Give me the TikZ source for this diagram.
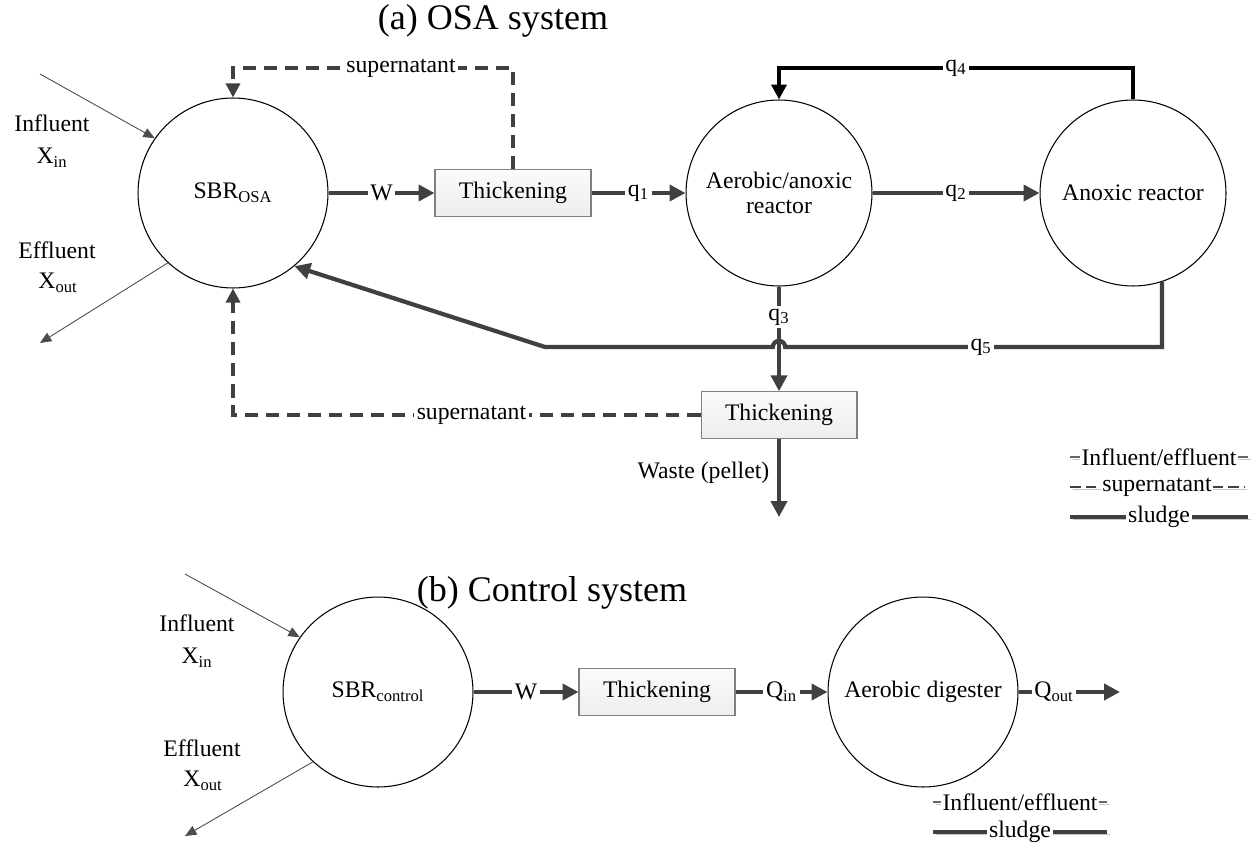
\documentclass[tikz,border=0pt]{standalone}
\usepackage{fontspec}
\setmainfont{Liberation Serif}
\usetikzlibrary{arrows.meta}
\usetikzlibrary{positioning}
\usetikzlibrary{calc}
\definecolor{sludgegray}{HTML}{404040}
\newcommand{\diagfont}{\fontsize{13.5}{14.5}\selectfont}
\newcommand{\titlefont}{\fontsize{20.5}{24}\selectfont}
\tikzset{
  Reactor/.style={circle,draw,line width=0.6pt,minimum size=3.72cm,inner sep=0pt,align=center},
  Thick/.style={rectangle,draw=gray,line width=0.6pt,top color=gray!3,bottom color=gray!14,
    minimum width=3.12cm,minimum height=0.93cm},
  Sludge/.style={draw=sludgegray,line width=2.4pt,-{Triangle[length=9pt,width=9pt]}},
  Super/.style={draw=sludgegray,line width=1.8pt,dash pattern=on 7.5pt off 4.5pt,
    -{Triangle[length=8pt,width=8pt]}},
  Flow/.style={draw=black!70,line width=0.5pt,-{Triangle[length=6.5pt,width=5.5pt]}},
  Recycle/.style={draw=black,line width=2.6pt,-{Triangle[length=8.5pt,width=8.5pt]}},
  Lab/.style={fill=white,inner sep=1.5pt},
  Legend/.style={preaction={draw=gray!45,transform canvas={xshift=1.5pt,yshift=-1.5pt}}}
}

\begin{document}
\begin{tikzpicture}[x=0.02cm,y=-0.02cm,font=\diagfont]
    \useasboundingbox (0,0) rectangle (1256,845);

    % (a) OSA system
    \node (titleA) at (493,21) {\titlefont (a) OSA system};
    \node[Reactor,minimum size=3.8cm] (sbr) at (233,193) {SBR\textsubscript{OSA}};
    \node[Thick] (thk1) at (513,193) {Thickening};
    \node[Reactor] (aer) at (779,193) {Aerobic/anoxic\\reactor};
    \node[Reactor] (anox) at (1133,193) {Anoxic reactor};
    \node[Thick] (thk2) at (779,415) {Thickening};
    \node (inA) at (52,123) {Influent};
    \node (xinA) at (52,158) {X\textsubscript{in}};
    \node (effA) at (57,250) {Effluent};
    \node (xoutA) at (58,283) {X\textsubscript{out}};

    \coordinate (inStartA) at (40,74);
    \coordinate (effEndA) at (40,343);
    \coordinate (topLine) at (0,68);
    \coordinate (q5Bend) at (545,347);
    \coordinate (hop) at (aer.south |- q5Bend);
    \coordinate (superBot) at (sbr.south |- thk2.west);
    \coordinate (wasteEnd) at (779,517);

    \draw[Flow] (inStartA) -- (sbr.145);
    \draw[Flow] (sbr.227) -- (effEndA);
    \draw[Sludge] (sbr.east) -- node[Lab]{W} (thk1.west);
    \draw[Sludge] (thk1.east) -- node[Lab]{q\textsubscript{1}} (aer.west);
    \draw[Sludge] (aer.east) -- node[Lab]{q\textsubscript{2}} (anox.west);
    \draw[Recycle] (anox.north) -- (anox.north |- topLine)
      -- node[Lab]{q\textsubscript{4}} (aer.north |- topLine) -- (aer.north);
    \draw[Super] (thk1.north) -- (thk1.north |- topLine)
      -- node[Lab,pos=.4]{supernatant} (sbr.north |- topLine) -- (sbr.north);
    \draw[Sludge] (aer.south) -- node[Lab,pos=.29]{q\textsubscript{3}} (thk2.north);
    \draw[Sludge] (anox.-72) -- (anox.-72 |- q5Bend)
      -- node[Lab,pos=.48]{q\textsubscript{5}} ([xshift=3.5pt]hop)
      arc[start angle=0,end angle=180,radius=3.5pt] -- (q5Bend) -- (sbr.-50);
    \draw[Super] (thk2.west) -- node[Lab,pos=.49]{supernatant} (superBot) -- (sbr.south);
    \draw[Sludge] (thk2.south) -- node[pos=.43,left=1pt]{Waste (pellet)} (wasteEnd);

    % legend (a)
    \coordinate (legA1l) at (1070,457);
    \coordinate (legA1r) at (1248,457);
    \coordinate (legA2l) at (1070,487);
    \coordinate (legA2r) at (1244,487);
    \coordinate (legA3l) at (1070,517);
    \coordinate (legA3r) at (1248,517);
    \draw[Legend,draw=black!60,line width=0.9pt] (legA1l) -- node[fill=white,inner sep=1pt] (legA1) {Influent/effluent} (legA1r);
    \draw[Legend,draw=sludgegray,line width=1.6pt,dash pattern=on 6pt off 3pt] (legA2l) -- node[fill=white,inner sep=1pt] (legA2) {supernatant} (legA2r);
    \draw[Legend,draw=sludgegray,line width=2.6pt] (legA3l) -- node[fill=white,inner sep=1pt] (legA3) {sludge} (legA3r);

    % (b) Control system
    \node (titleB) at (552,593) {\titlefont (b) Control system};
    \node[Reactor,minimum size=3.8cm] (sbrC) at (378,692) {SBR\textsubscript{control}};
    \node[Thick] (thk3) at (657,692) {Thickening};
    \node[Reactor,minimum size=3.8cm] (dig) at (923,692) {Aerobic digester};
    \node (inB) at (197,623) {Influent};
    \node (xinB) at (197,658) {X\textsubscript{in}};
    \node (effB) at (202,748) {Effluent};
    \node (xoutB) at (203,781) {X\textsubscript{out}};

    \coordinate (inStartB) at (185,574);
    \coordinate (effEndB) at (185,836);
    \coordinate (qOutEnd) at (1120,692);

    \draw[Flow] (inStartB) -- (sbrC.145);
    \draw[Flow] (sbrC.227) -- (effEndB);
    \draw[Sludge] (sbrC.east) -- node[Lab]{W} (thk3.west);
    \draw[Sludge] (thk3.east) -- node[Lab]{Q\textsubscript{in}} (dig.west);
    \draw[Sludge] (dig.east) -- node[Lab,pos=.35]{Q\textsubscript{out}} (qOutEnd);

    % legend (b)
    \coordinate (legB1l) at (933,802);
    \coordinate (legB1r) at (1107,802);
    \coordinate (legB2l) at (933,832);
    \coordinate (legB2r) at (1107,832);
    \draw[Legend,draw=black!60,line width=0.9pt] (legB1l) -- node[fill=white,inner sep=1pt] (legB1) {Influent/effluent} (legB1r);
    \draw[Legend,draw=sludgegray,line width=2.6pt] (legB2l) -- node[fill=white,inner sep=1pt] (legB2) {sludge} (legB2r);
\end{tikzpicture}
\end{document}
